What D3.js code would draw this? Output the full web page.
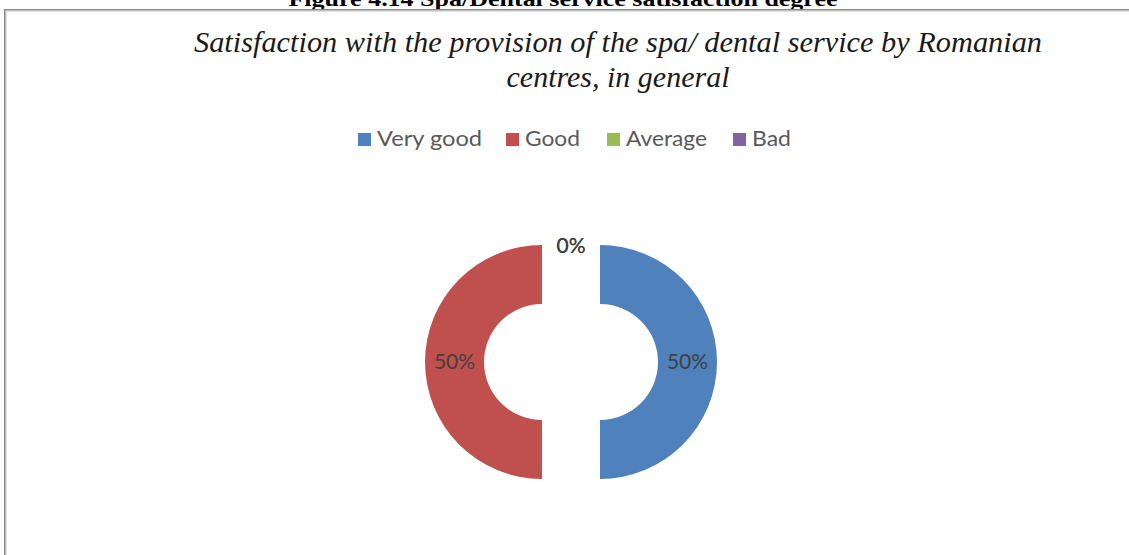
<!DOCTYPE html>
<html>
<head>
<meta charset="utf-8">
<script src="https://cdn.jsdelivr.net/npm/d3@7"></script>
<style>
  body { margin: 0; background: #fff; }
  svg { display: block; }
</style>
</head>
<body>
<div id="chart"></div>
<script>
// categories and values
const categories = ["Very good", "Good", "Average", "Bad"];
const values = [50, 50, 0, 0];
const colors = ["#4F81BD", "#C0504D", "#9BBB59", "#8064A2"];

const caption = "Figure 4.14 Spa/Dental service satisfaction degree";
const titleLines = ["Satisfaction with the provision of the spa/ dental service by Romanian", "centres, in general"];

const width = 1129, height = 555;

const svg = d3.select("#chart").append("svg")
    .attr("width", width)
    .attr("height", height);

// caption of the figure, cut off by the top of the picture
svg.append("text")
    .attr("x", 563)
    .attr("y", 6)
    .attr("text-anchor", "middle")
    .attr("textLength", 549)
    .attr("lengthAdjust", "spacingAndGlyphs")
    .style("font-family", "'Liberation Serif', serif")
    .style("font-weight", "bold")
    .style("font-size", "21px")
    .text(caption);

// chart frame (top and left edges with soft shadow)
const frameShades = ["#8a8a8a", "#bdbdbd", "#e2e2e2"];
frameShades.forEach((c, i) => {
    svg.append("line")
        .attr("x1", 4 + i).attr("x2", width)
        .attr("y1", 9.5 + i).attr("y2", 9.5 + i)
        .attr("stroke", c);
    svg.append("line")
        .attr("x1", 4.5 + i).attr("x2", 4.5 + i)
        .attr("y1", 9 + i).attr("y2", height)
        .attr("stroke", c);
});

// chart title, italic serif, condensed
const titleWidths = [848, 223];
const titleY = [52, 87];
titleLines.forEach((t, i) => {
    svg.append("text")
        .attr("x", 618)
        .attr("y", titleY[i])
        .attr("text-anchor", "middle")
        .attr("textLength", titleWidths[i])
        .attr("lengthAdjust", "spacingAndGlyphs")
        .style("font-family", "'Liberation Serif', serif")
        .style("font-style", "italic")
        .style("font-size", "30px")
        .style("fill", "#1a1a1a")
        .text(t);
});

// legend
const legendX = [358, 506, 607, 733];
const legendW = [105, 55, 81, 39];
const legend = svg.append("g");
categories.forEach((c, i) => {
    legend.append("rect")
        .attr("x", legendX[i])
        .attr("y", 133)
        .attr("width", 13)
        .attr("height", 13)
        .attr("fill", colors[i]);
    legend.append("text")
        .attr("x", legendX[i] + 19)
        .attr("y", 146)
        .attr("textLength", legendW[i])
        .attr("lengthAdjust", "spacingAndGlyphs")
        .style("font-family", "Lato, sans-serif")
        .style("font-size", "22px")
        .style("fill", "#595959")
        .text(c);
});

// -- DONUT -- //
const cx = 571, cy = 362;
const outerR = 117, innerR = 58, explode = 29;

const pie = d3.pie().sort(null).value(d => d);
const arc = d3.arc().innerRadius(innerR).outerRadius(outerR);
const arcs = pie(values);

const shift = d => {
    const mid = (d.startAngle + d.endAngle) / 2;
    return [Math.sin(mid) * explode, -Math.cos(mid) * explode];
};

const donut = svg.append("g").attr("transform", `translate(${cx},${cy})`);

donut.selectAll("path")
    .data(arcs)
    .enter()
    .append("path")
    .attr("d", arc)
    .attr("fill", (d, i) => colors[i])
    .attr("transform", d => `translate(${shift(d)})`);

donut.selectAll("text")
    .data(arcs)
    .enter()
    .append("text")
    .attr("transform", d => {
        const c = arc.centroid(d), s = shift(d);
        return `translate(${c[0] + s[0]},${c[1] + s[1]})`;
    })
    .attr("text-anchor", "middle")
    .attr("dy", "0.35em")
    .style("font-family", "Lato, sans-serif")
    .style("font-size", "21px")
    .style("fill", "#404040")
    .text(d => Math.round(d.data) + "%");
</script>
</body>
</html>
